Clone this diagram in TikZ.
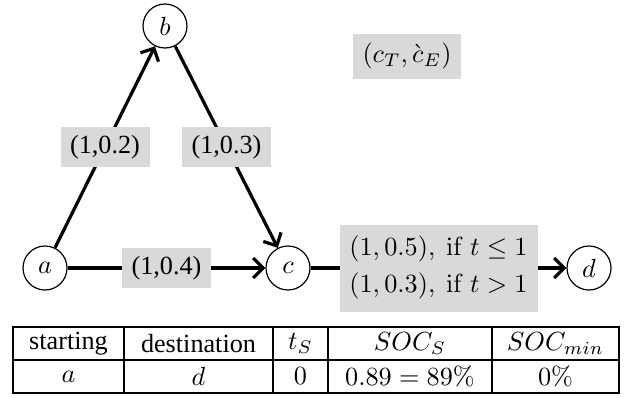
\documentclass[tikz,border=0pt]{standalone}
\usepackage[no-math]{fontspec}
\setmainfont{Liberation Serif}
\usetikzlibrary{arrows.meta,calc}
\definecolor{boxgray}{RGB}{217,217,217}
\newcommand{\bigtxt}[1]{\scalebox{2.62}{#1}}
\tikzset{
  vert/.style={circle,draw,line width=1.2pt,minimum size=44pt,inner sep=0pt},
  edge/.style={line width=3.2pt,-{Straight Barb[length=10pt,width=20pt,line width=3.2pt]}},
  lbl/.style={fill=boxgray,inner sep=0pt,minimum width=89pt,minimum height=40pt},
  grid/.style={line width=1.2pt},
  cell/.style={inner sep=0pt,anchor=center}
}
\begin{document}
\begin{tikzpicture}[x=1pt,y=-1pt]
\useasboundingbox (0,0) rectangle (624,397);
\node[vert] (a) at (45,268) {\bigtxt{$a$}};
\node[vert] (b) at (165,26) {\bigtxt{$b$}};
\node[vert] (c) at (288,268) {\bigtxt{$c$}};
\node[vert] (d) at (589,268) {\bigtxt{$d$}};
\draw[edge] (a) -- (b);
\draw[edge] (b) -- (c);
\draw[edge] (a) -- (c);
\draw[edge] (c) -- (d);
\node[lbl] (lab) at ($(a)!0.5!(b)$) {\bigtxt{(1,0.2)}};
\node[lbl] (lbc) at ($(b)!0.5!(c)$) {\bigtxt{(1,0.3)}};
\node[lbl] (lac) at ($(a)!0.5!(c)$) {\bigtxt{(1,0.4)}};
\node[lbl,minimum width=198pt,minimum height=87pt] (lcd) at ($(c)!0.5!(d)$)
  {\bigtxt{\begin{tabular}{@{}c@{}}$(1,0.5),\ \mathrm{if}\ t\leq 1$\\[2pt]$(1,0.3),\ \mathrm{if}\ t>1$\end{tabular}}};
\node[lbl,minimum width=108pt,minimum height=45pt] (legend) at (407,56) {\bigtxt{$(c_T,\grave{c}_E)$}};
% table
\coordinate (tl) at (13,327);
\coordinate (br) at (619,393);
\draw[grid] (tl) rectangle (br);
\coordinate (m1) at (13,360);
\coordinate (m2) at (619,360);
\draw[grid] (m1) -- (m2);
\foreach \x [count=\i] in {124,273,328,492}{
  \coordinate (vt\i) at (\x,327);
  \coordinate (vb\i) at (\x,393);
  \draw[grid] (vt\i) -- (vb\i);
}
\node[cell] (h1) at (68.5,343.5) {\bigtxt{starting}};
\node[cell] (h2) at (198.5,343.5) {\bigtxt{destination}};
\node[cell] (h3) at (300.5,343.5) {\bigtxt{$t_S$}};
\node[cell] (h4) at (410,343.5) {\bigtxt{$SOC_S$}};
\node[cell] (h5) at (555.5,343.5) {\bigtxt{$SOC_{min}$}};
\node[cell] (r1) at (68.5,376.5) {\bigtxt{$a$}};
\node[cell] (r2) at (198.5,376.5) {\bigtxt{$d$}};
\node[cell] (r3) at (300.5,376.5) {\bigtxt{$0$}};
\node[cell] (r4) at (410,376.5) {\bigtxt{$0.89=89\%$}};
\node[cell] (r5) at (555.5,376.5) {\bigtxt{$0\%$}};
\end{tikzpicture}
\end{document}
